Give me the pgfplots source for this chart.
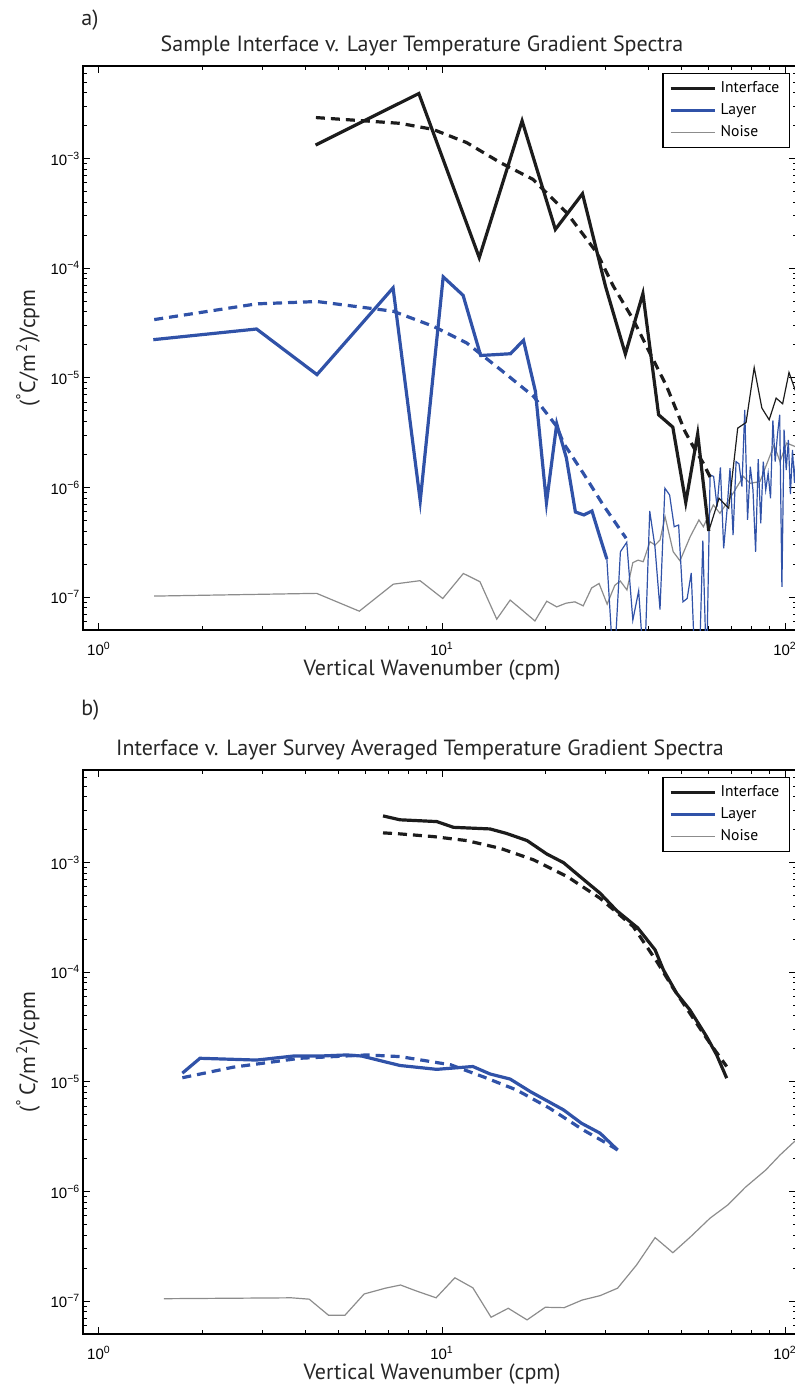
\documentclass[border=0pt]{standalone}
\usepackage{fontspec}
\setmainfont{PT Sans}
\newfontfamily\tickfont{Liberation Sans}
\usepackage{pgfplots}
\pgfplotsset{compat=1.18}

\definecolor{ifc}{RGB}{28,28,28}
\definecolor{lay}{RGB}{48,82,168}
\definecolor{noi}{RGB}{140,140,140}

\begin{document}
\begin{tikzpicture}
\useasboundingbox (0pt,0pt) rectangle (397.5pt,-694.5pt);

% ---------------- a) sample spectra ----------------
\begin{axis}[
    at={(41.65pt,-33pt)}, anchor=north west,
    xmode=log, ymode=log,
    scale only axis, width=356.6pt, height=282pt,
    xmin=0.9, xmax=108, ymin=5e-8, ymax=7e-3,
    axis line style={line width=0.9pt},
    tick align=inside,
    major tick length=3.6pt, minor tick length=2pt,
    tick style={black, line width=0.5pt},
    xtick={1,10,100},
    xticklabels={10\textsuperscript{0},10\textsuperscript{1},10\textsuperscript{2}},
    minor xtick={2,3,4,5,6,7,8,9,20,30,40,50,60,70,80,90},
    ytick={1e-7,1e-6,1e-5,1e-4,1e-3},
    yticklabels={10\textsuperscript{\textminus7},10\textsuperscript{\textminus6},10\textsuperscript{\textminus5},10\textsuperscript{\textminus4},10\textsuperscript{\textminus3}},
    minor ytick={6e-8,7e-8,8e-8,9e-8,
      2e-7,3e-7,4e-7,5e-7,6e-7,7e-7,8e-7,9e-7,
      2e-6,3e-6,4e-6,5e-6,6e-6,7e-6,8e-6,9e-6,
      2e-5,3e-5,4e-5,5e-5,6e-5,7e-5,8e-5,9e-5,
      2e-4,3e-4,4e-4,5e-4,6e-4,7e-4,8e-4,9e-4,
      2e-3,3e-3,4e-3,5e-3,6e-3},
    tick label style={font=\tickfont\fontsize{7.5}{8}\selectfont},
    yticklabel style={xshift=2pt},
    xticklabel style={yshift=-2.5pt},
    legend style={at={(0.991,0.988)}, anchor=north east, draw=black,
      line width=0.7pt, font=\fontsize{7.8}{9}\selectfont},
    legend image post style={xscale=1.3},
    legend cell align=left,
  ]
\addlegendimage{ifc, line width=1.6pt}\addlegendentry{Interface}
\addlegendimage{lay, line width=1.6pt}\addlegendentry{Layer}
\addlegendimage{noi, line width=0.6pt}\addlegendentry{Noise}

% noise floor
\addplot[line width=0.6pt, noi, forget plot] coordinates {
(1.449,1.02e-7) (4.31,1.08e-7) (5.74,7.43e-8) (7.21,1.31e-7) (8.63,1.41e-7)
(10.05,9.70e-8) (11.54,1.64e-7) (12.9,1.38e-7) (14.44,6.28e-8) (15.8,9.38e-8)
(17.27,7.43e-8) (18.66,6.05e-8) (20.2,9.16e-8) (21.6,8.13e-8) (23.0,8.79e-8)
(24.4,9.04e-8) (25.8,8.31e-8) (27.3,1.21e-7) (28.7,1.33e-7) (30.3,8.61e-8)
(31.9,1.28e-7) (33.1,1.40e-7) (34.6,1.16e-7) (36.0,2.06e-7) (37.3,2.17e-7)
(38.6,2.10e-7) (40.4,3.20e-7) (41.8,2.98e-7) (43.2,3.31e-7) (44.7,5.41e-7)
(47.2,2.59e-7) (49.4,2.14e-7) (52.9,3.55e-7) (56.1,5.05e-7) (57.8,4.38e-7)
(61.8,6.92e-7) (64.6,5.81e-7) (69.1,7.96e-7) (75.6,1.26e-6) (79.1,1.09e-6)
(84.5,1.13e-6) (89.4,1.78e-6) (92.9,2.44e-6) (96.7,1.72e-6) (101.1,2.54e-6)
(107,2.36e-6) (112,2.2e-6)};

% layer spectrum beyond the fit range
\addplot[line width=0.6pt, lay, forget plot] coordinates {
(30.24,2.22e-7) (31.68,2e-8) (33.12,2.59e-7) (34.56,3.16e-7) (36.0,6.15e-8)
(37.44,1.14e-7) (38.88,2e-8) (40.32,6.10e-7) (41.76,2.88e-7) (43.2,7.7e-8)
(44.64,9.84e-7) (46.08,8.53e-7) (47.52,4.38e-7) (48.96,4.54e-7) (50.4,9.04e-8)
(51.84,9.7e-8) (53.28,1.66e-7) (54.72,2e-8) (56.16,2e-8) (57.6,3.27e-7)
(59.04,2e-8) (60.48,1.30e-6) (61.92,1.26e-6) (63.36,6.67e-7) (64.8,1.52e-6)
(66.24,2.78e-7) (67.68,6.01e-7) (69.12,1.50e-6) (70.56,3.68e-7) (72.0,1.72e-6)
(73.44,1.64e-6) (74.88,1.02e-6) (76.32,5.11e-6) (77.76,5.05e-7) (79.2,1.55e-6)
(80.64,9.48e-7) (82.08,2.59e-7) (83.52,1.81e-6) (84.96,4.71e-7) (86.4,1.72e-6)
(87.84,9.48e-7) (89.28,1.35e-6) (90.72,7.96e-7) (92.16,4.08e-6) (93.6,1.72e-6)
(95.04,3.02e-6) (96.48,4.60e-6) (97.92,1.24e-7) (99.36,3.36e-6) (100.8,1.44e-6)
(102.24,2.72e-6) (103.68,8.7e-7) (105.12,2.2e-6) (106.56,1.1e-6) (108.0,2.5e-6)
(109.44,1.5e-6)};

% interface spectrum beyond the fit range
\addplot[line width=0.6pt, ifc, forget plot] coordinates {
(59.92,4.00e-7) (64.2,7.96e-7) (68.5,6.46e-7) (72.8,3.48e-6) (77.0,3.91e-6)
(81.3,1.24e-5) (85.6,5.30e-6) (89.9,4.14e-6) (94.2,6.53e-6) (98.4,5.80e-6)
(102.7,1.12e-5) (107,7.78e-6) (111.3,6e-6)};

% model fits
\addplot[line width=1.6pt, dash pattern=on 4.5pt off 3pt, ifc, forget plot] coordinates {
(4.29,2.37e-3) (5.96,2.21e-3) (7.54,2.10e-3) (9.41,1.85e-3) (11.8,1.40e-3)
(14.8,9.19e-4) (18.4,6.48e-4) (23.1,3.21e-4) (28.3,1.38e-4) (31.6,6.84e-5)
(36.1,3.40e-5) (41.3,1.46e-5) (45.2,8.34e-6) (51.1,3.24e-6) (54.0,2.36e-6)
(57.8,1.66e-6) (61.4,1.13e-6)};

\addplot[line width=1.6pt, dash pattern=on 4.5pt off 3pt, lay, forget plot] coordinates {
(1.449,3.40e-5) (2.88,4.73e-5) (4.32,4.97e-5) (6.03,4.35e-5) (7.21,4.05e-5)
(9.44,2.95e-5) (11.8,2.08e-5) (14.8,1.19e-5) (18.5,6.76e-6) (21.6,3.60e-6)
(22.6,2.54e-6) (25.8,1.35e-6) (29.5,6.92e-7) (34.4,3.44e-7)};

% measured spectra within the fit range
\addplot[line width=1.6pt, lay, forget plot] coordinates {
(1.44,2.23e-5) (2.88,2.79e-5) (4.32,1.07e-5) (5.76,2.98e-5) (7.2,6.62e-5)
(8.64,7.53e-7) (10.08,8.34e-5) (11.52,5.66e-5) (12.96,1.60e-5) (14.4,1.63e-5)
(15.84,1.66e-5) (17.28,2.20e-5) (18.72,7.52e-6) (20.16,7.26e-7) (21.6,3.80e-6)
(23.04,1.86e-6) (24.48,5.97e-7) (25.92,5.61e-7) (27.36,6.10e-7) (28.8,3.61e-7)
(30.24,2.22e-7)};

\addplot[line width=1.6pt, ifc, forget plot] coordinates {
(4.28,1.33e-3) (8.56,3.93e-3) (12.84,1.25e-4) (17.12,2.21e-3) (21.4,2.26e-4)
(25.68,4.79e-4) (29.96,6.85e-5) (34.24,1.65e-5) (38.52,5.87e-5) (42.8,4.60e-6)
(47.08,3.55e-6) (51.36,7.29e-7) (55.64,3.08e-6) (59.92,4.00e-7)};
\end{axis}

% ---------------- b) survey averages ----------------
\begin{axis}[
    at={(41.65pt,-385pt)}, anchor=north west,
    xmode=log, ymode=log,
    scale only axis, width=356.6pt, height=282pt,
    xmin=0.9, xmax=108, ymin=5e-8, ymax=7e-3,
    axis line style={line width=0.9pt},
    tick align=inside,
    major tick length=3.6pt, minor tick length=2pt,
    tick style={black, line width=0.5pt},
    xtick={1,10,100},
    xticklabels={10\textsuperscript{0},10\textsuperscript{1},10\textsuperscript{2}},
    minor xtick={2,3,4,5,6,7,8,9,20,30,40,50,60,70,80,90},
    ytick={1e-7,1e-6,1e-5,1e-4,1e-3},
    yticklabels={10\textsuperscript{\textminus7},10\textsuperscript{\textminus6},10\textsuperscript{\textminus5},10\textsuperscript{\textminus4},10\textsuperscript{\textminus3}},
    minor ytick={6e-8,7e-8,8e-8,9e-8,
      2e-7,3e-7,4e-7,5e-7,6e-7,7e-7,8e-7,9e-7,
      2e-6,3e-6,4e-6,5e-6,6e-6,7e-6,8e-6,9e-6,
      2e-5,3e-5,4e-5,5e-5,6e-5,7e-5,8e-5,9e-5,
      2e-4,3e-4,4e-4,5e-4,6e-4,7e-4,8e-4,9e-4,
      2e-3,3e-3,4e-3,5e-3,6e-3},
    tick label style={font=\tickfont\fontsize{7.5}{8}\selectfont},
    yticklabel style={xshift=2pt},
    xticklabel style={yshift=-2.5pt},
    legend style={at={(0.991,0.988)}, anchor=north east, draw=black,
      line width=0.7pt, font=\fontsize{7.8}{9}\selectfont},
    legend image post style={xscale=1.3},
    legend cell align=left,
  ]
\addlegendimage{ifc, line width=1.6pt}\addlegendentry{Interface}
\addlegendimage{lay, line width=1.6pt}\addlegendentry{Layer}
\addlegendimage{noi, line width=0.6pt}\addlegendentry{Noise}

\addplot[line width=0.6pt, noi, forget plot] coordinates {
(1.545,1.05e-7) (3.64,1.07e-7) (4.10,1.04e-7) (4.67,7.41e-8) (5.21,7.41e-8)
(5.93,1.16e-7) (6.84,1.31e-7) (7.57,1.40e-7) (8.39,1.24e-7) (9.61,1.07e-7)
(10.9,1.63e-7) (12.3,1.32e-7) (13.9,7.11e-8) (15.6,8.59e-8) (17.7,6.73e-8)
(20.0,8.77e-8) (22.7,8.70e-8) (25.6,1.02e-7) (28.9,1.12e-7) (32.5,1.31e-7)
(36.9,2.13e-7) (41.8,3.79e-7) (47.1,2.76e-7) (53.1,3.87e-7) (60.4,5.69e-7)
(68.1,7.53e-7) (76.6,1.09e-6) (87.9,1.57e-6) (96.7,2.15e-6) (107,2.89e-6)};

\addplot[line width=1.6pt, dash pattern=on 4.5pt off 3pt, ifc, forget plot] coordinates {
(6.73,1.87e-3) (7.54,1.83e-3) (9.41,1.73e-3) (11.8,1.59e-3) (14.8,1.35e-3)
(18.5,1.06e-3) (23.2,7.45e-4) (28.9,4.73e-4) (36.1,2.61e-4) (42.3,1.25e-4)
(47.2,7.15e-5) (54.0,3.80e-5) (60.4,2.25e-5) (67.6,1.38e-5)};

\addplot[line width=1.6pt, dash pattern=on 4.5pt off 3pt, lay, forget plot] coordinates {
(1.75,1.09e-5) (2.46,1.36e-5) (3.85,1.64e-5) (6.03,1.76e-5) (7.54,1.70e-5)
(10.6,1.43e-5) (13.2,1.11e-5) (16.5,8.43e-6) (20.6,5.74e-6) (25.8,3.64e-6)
(30.2,2.75e-6) (32.5,2.39e-6)};

\addplot[line width=1.6pt, lay, forget plot] coordinates {
(1.75,1.20e-5) (1.97,1.64e-5) (2.88,1.58e-5) (3.69,1.72e-5) (4.41,1.72e-5)
(5.28,1.76e-5) (5.83,1.72e-5) (7.54,1.41e-5) (9.65,1.30e-5) (12.3,1.38e-5)
(13.8,1.18e-5) (15.8,1.06e-5) (18.1,8.14e-6) (22.6,5.55e-6) (25.5,4.19e-6)
(28.9,3.40e-6) (32.5,2.39e-6)};

\addplot[line width=1.6pt, ifc, forget plot] coordinates {
(6.73,2.67e-3) (7.54,2.46e-3) (9.65,2.37e-3) (10.8,2.10e-3) (13.8,2.03e-3)
(15.4,1.85e-3) (17.7,1.59e-3) (20.2,1.20e-3) (22.6,1.00e-3) (25.8,7.06e-4)
(28.9,5.26e-4) (32.3,3.65e-4) (37.2,2.54e-4) (41.8,1.60e-4) (44.2,1.05e-4)
(48.3,6.43e-5) (52.8,4.53e-5) (59.1,2.58e-5) (63.2,1.76e-5) (67.6,1.08e-5)};
\end{axis}

% panel letters, titles and axis labels
\begin{scope}[every node/.style={font=\fontsize{11}{13}\selectfont, text=black!85, inner sep=0pt}]
\node[anchor=west] at (40.5pt,-10pt) {a)};
\node at (211pt,-23pt) {Sample Interface v. Layer Temperature Gradient Spectra};
\node at (216pt,-335pt) {Vertical Wavenumber (cpm)};
\node[rotate=90] at (14pt,-174pt) {(\textsuperscript{°}C/m\textsuperscript{\,2})/cpm};

\node[anchor=west] at (40.5pt,-355pt) {b)};
\node at (210pt,-375pt) {Interface v. Layer Survey Averaged Temperature Gradient Spectra};
\node at (216pt,-687pt) {Vertical Wavenumber (cpm)};
\node[rotate=90] at (14pt,-526pt) {(\textsuperscript{°}\,C/m\textsuperscript{\,2})/cpm};
\end{scope}
\end{tikzpicture}
\end{document}
